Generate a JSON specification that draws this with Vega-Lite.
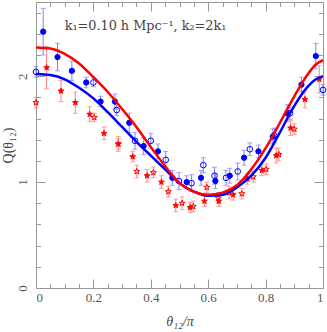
{
  "$schema": "https://vega.github.io/schema/vega-lite/v6.json",
  "width": 287,
  "height": 286,
  "autosize": "none",
  "padding": {"left": 36, "top": 2, "right": 4, "bottom": 44},
  "background": "white",
  "datasets": {
    "pts": [
      {"series": "A_filled", "x": 0.025, "y": 2.42, "err": 0.22},
      {"series": "A_filled", "x": 0.075, "y": 2.18, "err": 0.13},
      {"series": "A_filled", "x": 0.125, "y": 2.05, "err": 0.09},
      {"series": "A_filled", "x": 0.175, "y": 1.94, "err": 0.05},
      {"series": "A_filled", "x": 0.225, "y": 1.76, "err": 0.05},
      {"series": "A_filled", "x": 0.275, "y": 1.76, "err": 0.07},
      {"series": "A_filled", "x": 0.325, "y": 1.56, "err": 0.09},
      {"series": "A_filled", "x": 0.375, "y": 1.34, "err": 0.08},
      {"series": "A_filled", "x": 0.425, "y": 1.29, "err": 0.07},
      {"series": "A_filled", "x": 0.475, "y": 1.04, "err": 0.07},
      {"series": "A_filled", "x": 0.525, "y": 1.00, "err": 0.06},
      {"series": "A_filled", "x": 0.575, "y": 1.04, "err": 0.07},
      {"series": "A_filled", "x": 0.625, "y": 1.01, "err": 0.07},
      {"series": "A_filled", "x": 0.675, "y": 1.06, "err": 0.07},
      {"series": "A_filled", "x": 0.725, "y": 1.23, "err": 0.07},
      {"series": "A_filled", "x": 0.775, "y": 1.29, "err": 0.06},
      {"series": "A_filled", "x": 0.825, "y": 1.43, "err": 0.07},
      {"series": "A_filled", "x": 0.875, "y": 1.65, "err": 0.08},
      {"series": "A_filled", "x": 0.925, "y": 1.92, "err": 0.07},
      {"series": "A_filled", "x": 0.975, "y": 2.19, "err": 0.12},
      {"series": "A_open", "x": 0.0, "y": 2.04, "err": 0.05},
      {"series": "A_open", "x": 0.2, "y": 1.94, "err": 0.04},
      {"series": "A_open", "x": 0.281, "y": 1.68, "err": 0.05},
      {"series": "A_open", "x": 0.345, "y": 1.39, "err": 0.08},
      {"series": "A_open", "x": 0.40, "y": 1.39, "err": 0.07},
      {"series": "A_open", "x": 0.452, "y": 1.21, "err": 0.08},
      {"series": "A_open", "x": 0.498, "y": 1.01, "err": 0.08},
      {"series": "A_open", "x": 0.542, "y": 0.99, "err": 0.08},
      {"series": "A_open", "x": 0.583, "y": 1.16, "err": 0.07},
      {"series": "A_open", "x": 0.622, "y": 1.06, "err": 0.08},
      {"series": "A_open", "x": 0.662, "y": 1.04, "err": 0.07},
      {"series": "A_open", "x": 0.703, "y": 1.10, "err": 0.08},
      {"series": "A_open", "x": 0.745, "y": 1.31, "err": 0.06},
      {"series": "A_open", "x": 0.83, "y": 1.44, "err": 0.07},
      {"series": "A_open", "x": 0.885, "y": 1.65, "err": 0.06},
      {"series": "A_open", "x": 1.0, "y": 1.87, "err": 0.05},
      {"series": "B_filled", "x": 0.037, "y": 2.08, "err": 0.20},
      {"series": "B_filled", "x": 0.087, "y": 1.86, "err": 0.10},
      {"series": "B_filled", "x": 0.137, "y": 1.75, "err": 0.10},
      {"series": "B_filled", "x": 0.187, "y": 1.64, "err": 0.07},
      {"series": "B_filled", "x": 0.237, "y": 1.46, "err": 0.06},
      {"series": "B_filled", "x": 0.287, "y": 1.36, "err": 0.07},
      {"series": "B_filled", "x": 0.337, "y": 1.24, "err": 0.05},
      {"series": "B_filled", "x": 0.387, "y": 1.06, "err": 0.06},
      {"series": "B_filled", "x": 0.437, "y": 1.00, "err": 0.06},
      {"series": "B_filled", "x": 0.487, "y": 0.78, "err": 0.06},
      {"series": "B_filled", "x": 0.537, "y": 0.76, "err": 0.05},
      {"series": "B_filled", "x": 0.587, "y": 0.82, "err": 0.05},
      {"series": "B_filled", "x": 0.637, "y": 0.82, "err": 0.05},
      {"series": "B_filled", "x": 0.687, "y": 0.88, "err": 0.05},
      {"series": "B_filled", "x": 0.737, "y": 1.03, "err": 0.05},
      {"series": "B_filled", "x": 0.787, "y": 1.11, "err": 0.05},
      {"series": "B_filled", "x": 0.837, "y": 1.25, "err": 0.07},
      {"series": "B_filled", "x": 0.887, "y": 1.51, "err": 0.07},
      {"series": "B_filled", "x": 0.937, "y": 1.78, "err": 0.08},
      {"series": "B_filled", "x": 0.987, "y": 1.97, "err": 0.13},
      {"series": "B_open", "x": 0.0, "y": 1.75, "err": 0.05},
      {"series": "B_open", "x": 0.203, "y": 1.61, "err": 0.04},
      {"series": "B_open", "x": 0.287, "y": 1.36, "err": 0.05},
      {"series": "B_open", "x": 0.351, "y": 1.10, "err": 0.06},
      {"series": "B_open", "x": 0.409, "y": 1.09, "err": 0.05},
      {"series": "B_open", "x": 0.461, "y": 0.91, "err": 0.05},
      {"series": "B_open", "x": 0.509, "y": 0.80, "err": 0.06},
      {"series": "B_open", "x": 0.548, "y": 0.77, "err": 0.05},
      {"series": "B_open", "x": 0.595, "y": 0.95, "err": 0.05},
      {"series": "B_open", "x": 0.635, "y": 0.85, "err": 0.05},
      {"series": "B_open", "x": 0.673, "y": 0.90, "err": 0.06},
      {"series": "B_open", "x": 0.717, "y": 0.89, "err": 0.05},
      {"series": "B_open", "x": 0.757, "y": 1.05, "err": 0.05},
      {"series": "B_open", "x": 0.802, "y": 1.12, "err": 0.05},
      {"series": "B_open", "x": 0.846, "y": 1.26, "err": 0.06},
      {"series": "B_open", "x": 0.90, "y": 1.50, "err": 0.05}
    ],
    "curves": [
      {"model": "A", "x": 0.0, "y": 2.02},
      {"model": "A", "x": 0.05, "y": 2.01},
      {"model": "A", "x": 0.1, "y": 1.97},
      {"model": "A", "x": 0.15, "y": 1.89},
      {"model": "A", "x": 0.2, "y": 1.79},
      {"model": "A", "x": 0.25, "y": 1.66},
      {"model": "A", "x": 0.3, "y": 1.52},
      {"model": "A", "x": 0.35, "y": 1.38},
      {"model": "A", "x": 0.4, "y": 1.25},
      {"model": "A", "x": 0.45, "y": 1.12},
      {"model": "A", "x": 0.5, "y": 0.99},
      {"model": "A", "x": 0.55, "y": 0.91},
      {"model": "A", "x": 0.6, "y": 0.87},
      {"model": "A", "x": 0.65, "y": 0.88},
      {"model": "A", "x": 0.7, "y": 0.95},
      {"model": "A", "x": 0.75, "y": 1.06},
      {"model": "A", "x": 0.8, "y": 1.23},
      {"model": "A", "x": 0.85, "y": 1.47},
      {"model": "A", "x": 0.9, "y": 1.72},
      {"model": "A", "x": 0.95, "y": 1.91},
      {"model": "A", "x": 0.975, "y": 1.97},
      {"model": "A", "x": 1.0, "y": 2.0},
      {"model": "B", "x": 0.0, "y": 2.27},
      {"model": "B", "x": 0.05, "y": 2.26},
      {"model": "B", "x": 0.1, "y": 2.21},
      {"model": "B", "x": 0.15, "y": 2.12},
      {"model": "B", "x": 0.2, "y": 1.99},
      {"model": "B", "x": 0.25, "y": 1.85},
      {"model": "B", "x": 0.3, "y": 1.69},
      {"model": "B", "x": 0.35, "y": 1.52},
      {"model": "B", "x": 0.4, "y": 1.33},
      {"model": "B", "x": 0.45, "y": 1.15},
      {"model": "B", "x": 0.5, "y": 0.99},
      {"model": "B", "x": 0.55, "y": 0.91},
      {"model": "B", "x": 0.6, "y": 0.88},
      {"model": "B", "x": 0.65, "y": 0.90},
      {"model": "B", "x": 0.7, "y": 0.97},
      {"model": "B", "x": 0.75, "y": 1.12},
      {"model": "B", "x": 0.8, "y": 1.32},
      {"model": "B", "x": 0.85, "y": 1.56},
      {"model": "B", "x": 0.9, "y": 1.81},
      {"model": "B", "x": 0.95, "y": 2.03},
      {"model": "B", "x": 0.975, "y": 2.11},
      {"model": "B", "x": 1.0, "y": 2.15}
    ]
  },
  "layer": [
    {
      "data": {"name": "pts"},
      "mark": {"type": "errorbar", "ticks": {"size": 5}, "thickness": 1},
      "encoding": {
        "x": {"field": "x", "type": "quantitative", "scale": {"domain": [0, 1], "nice": false},
          "axis": {"orient": "bottom", "values": [0.05,0.1,0.15,0.25,0.3,0.35,0.45,0.5,0.55,0.65,0.7,0.75,0.85,0.9,0.95], "tickSize": -4.5, "labels": false, "title": null, "domain": false}},
        "y": {"field": "y", "type": "quantitative", "scale": {"domain": [0, 2.7], "nice": false},
          "axis": {"orient": "left", "values": [0.2,0.4,0.6,0.8,1.2,1.4,1.6,1.8,2.2,2.4,2.6], "tickSize": -4.5, "labels": false, "title": null, "domain": false}},
        "yError": {"field": "err"},
        "color": {"field": "series", "type": "nominal", "legend": null,
          "scale": {"domain": ["A_filled","A_open","B_filled","B_open"], "range": ["#8080ff","#8080ff","#ff8080","#ff8080"]}}
      }
    },
    {
      "data": {"name": "pts"},
      "mark": {"type": "point", "opacity": 1, "strokeWidth": 1},
      "encoding": {
        "x": {"field": "x", "type": "quantitative",
          "axis": {"orient": "top", "values": [0,0.2,0.4,0.6,0.8,1], "tickSize": -9, "labels": false, "title": null, "domain": false}},
        "y": {"field": "y", "type": "quantitative",
          "axis": {"orient": "right", "values": [0,1,2], "tickSize": -9, "labels": false, "title": null, "domain": false}},
        "shape": {"field": "series", "type": "nominal", "legend": null,
          "scale": {"domain": ["A_filled","A_open","B_filled","B_open"], "range": ["circle","circle","M0,-1L0.225,-0.309L0.951,-0.309L0.363,0.118L0.588,0.809L0,0.382L-0.588,0.809L-0.363,0.118L-0.951,-0.309L-0.225,-0.309Z","M0,-1L0.225,-0.309L0.951,-0.309L0.363,0.118L0.588,0.809L0,0.382L-0.588,0.809L-0.363,0.118L-0.951,-0.309L-0.225,-0.309Z"]}},
        "size": {"field": "series", "type": "nominal", "legend": null,
          "scale": {"domain": ["A_filled","A_open","B_filled","B_open"], "range": [28, 40, 105, 110]}},
        "fill": {"field": "series", "type": "nominal", "legend": null,
          "scale": {"domain": ["A_filled","A_open","B_filled","B_open"], "range": ["#0000ff","transparent","#ff0000","transparent"]}},
        "stroke": {"field": "series", "type": "nominal", "legend": null,
          "scale": {"domain": ["A_filled","A_open","B_filled","B_open"], "range": ["#0000ff","#0000ff","#ff0000","#ff0000"]}}
      }
    },
    {
      "data": {"name": "curves"},
      "mark": {"type": "line", "strokeWidth": 2.5, "interpolate": "monotone"},
      "encoding": {
        "x": {"field": "x", "type": "quantitative",
          "axis": {"orient": "bottom", "values": [0,0.2,0.4,0.6,0.8,1], "tickSize": -9, "labelPadding": 12, "labelExpr": "'' + datum.value", "title": "θ₁₂/π", "titleFontStyle": "italic", "titlePadding": 10, "domain": false}},
        "y": {"field": "y", "type": "quantitative",
          "axis": {"orient": "left", "values": [0,1,2], "tickSize": -9, "labelPadding": 19, "labelAngle": -90, "labelAlign": "center", "labelBaseline": "alphabetic", "labelExpr": "'' + datum.value", "title": "Q(θ₁₂)", "titlePadding": 1, "domain": false}},
        "color": {"field": "model", "type": "nominal", "legend": null,
          "scale": {"domain": ["A","B"], "range": ["#0000ff","#ff0000"]}}
      }
    },
    {
      "data": {"values": [{"label": "k₁=0.10 h Mpc⁻¹, k₂=2k₁"}]},
      "mark": {"type": "text", "align": "left", "baseline": "alphabetic", "font": "DejaVu Serif", "fontSize": 12.8, "color": "#444"},
      "encoding": {
        "x": {"datum": 0.1, "type": "quantitative",
          "axis": {"orient": "top", "values": [0.05,0.1,0.15,0.25,0.3,0.35,0.45,0.5,0.55,0.65,0.7,0.75,0.85,0.9,0.95], "tickSize": -4.5, "labels": false, "title": null, "domain": false}},
        "y": {"datum": 2.44, "type": "quantitative",
          "axis": {"orient": "right", "values": [0.2,0.4,0.6,0.8,1.2,1.4,1.6,1.8,2.2,2.4,2.6], "tickSize": -4.5, "labels": false, "title": null, "domain": false}},
        "text": {"field": "label", "type": "nominal"}
      }
    }
  ],
  "resolve": {"scale": {"color": "independent"}, "axis": {"x": "independent", "y": "independent"}},
  "config": {
    "view": {"stroke": "#999", "strokeWidth": 1},
    "axis": {"grid": false, "tickColor": "#999", "tickWidth": 1, "labelFont": "Liberation Serif", "labelFontSize": 13, "labelColor": "#555", "titleFont": "Liberation Serif", "titleFontSize": 14, "titleColor": "#444", "titleFontWeight": "normal"}
  }
}
